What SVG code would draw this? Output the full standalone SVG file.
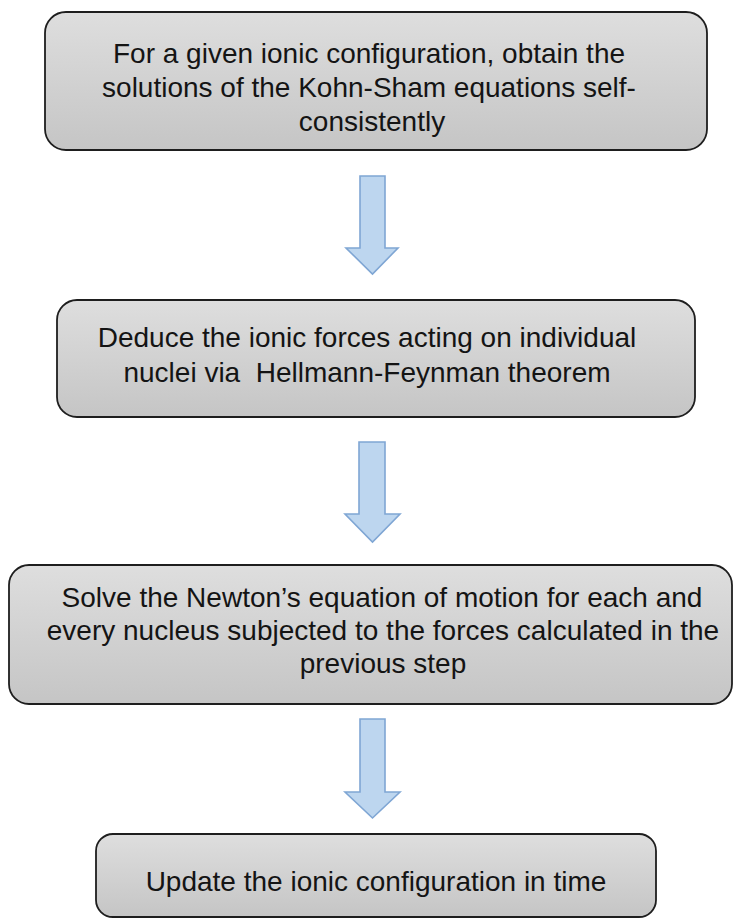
<svg xmlns="http://www.w3.org/2000/svg" width="735" height="923" viewBox="0 0 735 923">
<defs>
<linearGradient id="g" x1="0" y1="0" x2="0" y2="1">
<stop offset="0" stop-color="#dedede"/>
<stop offset="1" stop-color="#c5c5c5"/>
</linearGradient>
</defs>
<style>
.box{fill:url(#g);stroke:#1e1e1e;stroke-width:1.8}
.t{font-family:"Liberation Sans",Arial,sans-serif;font-size:28px;fill:#141414;text-anchor:middle}
.arr{fill:#bdd6ef;stroke:#7fa6d4;stroke-width:1.6;stroke-linejoin:miter}
</style>
<rect width="735" height="923" fill="#ffffff"/>
<g id="node1">
<rect class="box" x="45" y="12" width="662" height="138" rx="21"/>
<text class="t" x="369" y="63">For a given ionic configuration, obtain the</text>
<text class="t" x="369" y="97">solutions of the Kohn-Sham equations self-</text>
<text class="t" x="372" y="131">consistently</text>
</g>
<g id="node2">
<rect class="box" x="57" y="300" width="638" height="117" rx="20"/>
<text class="t" x="367" y="347">Deduce the ionic forces acting on individual</text>
<text class="t" x="367" y="382" xml:space="preserve">nuclei via  Hellmann-Feynman theorem</text>
</g>
<g id="node3">
<rect class="box" x="9" y="565" width="723" height="139" rx="20"/>
<text class="t" x="382" y="607">Solve the Newton’s equation of motion for each and</text>
<text class="t" x="383" y="640">every nucleus subjected to the forces calculated in the</text>
<text class="t" x="383" y="673">previous step</text>
</g>
<g id="node4">
<rect class="box" x="96" y="834" width="560" height="83" rx="17"/>
<text class="t" x="376" y="891">Update the ionic configuration in time</text>
</g>
<g id="connectors">
<polygon class="arr" points="360,176 385,176 385,248 398,248 372.5,274 346,248 360,248"/>
<polygon class="arr" points="359,442 385,442 385,514 400,514 372.5,542 345,514 359,514"/>
<polygon class="arr" points="360,719 385,719 385,792 400,792 372.5,818 345,792 360,792"/>
</g>
</svg>
